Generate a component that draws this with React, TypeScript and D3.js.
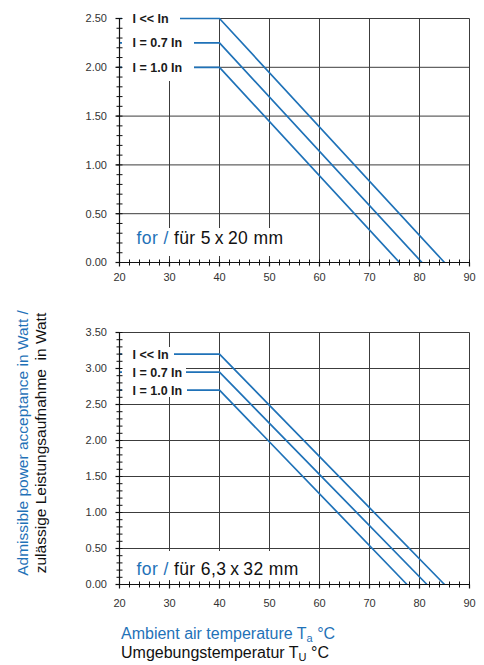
import React from "react";
import * as d3 from "d3";

const xTicks = [20, 30, 40, 50, 60, 70, 80, 90];
const seriesLabels = ["I << In", "I = 0.7 In", "I = 1.0 In"];

const topYTicks = [0, 0.5, 1.0, 1.5, 2.0, 2.5];
const topLevels = [2.5, 2.25, 2.0];
const topZeroTemps = [85, 80.5, 76];
const topKneeTemp = 40;

const bottomYTicks = [0, 0.5, 1.0, 1.5, 2.0, 2.5, 3.0, 3.5];
const bottomLevels = [3.2, 2.95, 2.7];
const bottomZeroTemps = [85, 81.5, 77.5];
const bottomKneeTemp = 40;

const BLUE = "#1f72b8";
const GRID = "#3c3c3c";
const FONT = "'Liberation Sans', Arial, Helvetica, sans-serif";

type PanelProps = {
  yMax: number;
  yTicks: number[];
  levels: number[];
  zeros: number[];
  knee: number;
  y0: number;
  y1: number;
  lineStarts: number[];
  labelBox: { y0: number; y1: number; x1: number };
  noteBox: { y0: number; y1: number };
  noteBaseline: number;
  size: string;
  xLabelBaseline: number;
};

function Panel(p: PanelProps) {
  const x = d3.scaleLinear().domain([20, 90]).range([119.5, 469.5]);
  const y = d3.scaleLinear().domain([0, p.yMax]).range([p.y0, p.y1]);
  const line = d3
    .line<[number, number]>()
    .x((d) => x(d[0]))
    .y((d) => y(d[1]));
  const minorY = d3.range(0, Math.round(p.yMax * 10) + 1).map((i) => i / 10);
  const minorX = d3.range(20, 91, 2);
  return (
    <g>
      {xTicks.slice(1).map((t) => (
        <line key={"vx" + t} x1={x(t)} x2={x(t)} y1={y(0)} y2={y(p.yMax)} stroke={GRID} strokeWidth={1} />
      ))}
      {p.yTicks.slice(1).map((t) => (
        <line key={"hy" + t} x1={x(20)} x2={x(90)} y1={y(t)} y2={y(t)} stroke={GRID} strokeWidth={1} />
      ))}
      {p.levels.map((lv, i) => (
        <path
          key={"s" + i}
          d={line([
            [20, lv],
            [p.knee, lv],
            [p.zeros[i], 0],
          ]) as string}
          fill="none"
          stroke={BLUE}
          strokeWidth={1.7}
        />
      ))}
      <rect x={122} y={p.labelBox.y0} width={p.labelBox.x1 - 122} height={p.labelBox.y1 - p.labelBox.y0} fill="white" />
      {p.levels.map((lv, i) => (
        <rect key={"lb" + i} x={122} y={y(lv) - 6} width={p.lineStarts[i] - 122} height={12} fill="white" />
      ))}
      {p.levels.map((lv, i) => (
        <text
          key={"lt" + i}
          x={132.5}
          y={y(lv)}
          dy="0.36em"
          fontFamily={FONT}
          fontSize={12.5}
          fontWeight="bold"
          fill="#1a1a1a"
        >
          {seriesLabels[i]}
        </text>
      ))}
      <rect x={124} y={p.noteBox.y0} width={182} height={p.noteBox.y1 - p.noteBox.y0} fill="white" />
      <text x={136.5} y={p.noteBaseline} fontFamily={FONT} fontSize={17.5} letterSpacing={0.4} fill="#111">
        <tspan fill={BLUE}>for / </tspan>
        <tspan>für {p.size}</tspan>
      </text>
      <line x1={x(20)} x2={x(20)} y1={y(0)} y2={y(p.yMax)} stroke="#111" strokeWidth={1.2} />
      <line x1={x(20)} x2={x(90)} y1={y(0)} y2={y(0)} stroke="#111" strokeWidth={1.2} />
      {minorY.map((t) => (
        <line key={"my" + t} x1={x(20) - 3} x2={x(20) + 3} y1={y(t)} y2={y(t)} stroke="#111" strokeWidth={1} />
      ))}
      {p.yTicks.map((t) => (
        <line key={"Mj" + t} x1={x(20) - 4} x2={x(20)} y1={y(t)} y2={y(t)} stroke="#111" strokeWidth={1.2} />
      ))}
      {minorX.map((t) => (
        <line key={"mx" + t} x1={x(t)} x2={x(t)} y1={y(0) - 3} y2={y(0) + 3} stroke="#111" strokeWidth={1} />
      ))}
      {xTicks.map((t) => (
        <line key={"Mx" + t} x1={x(t)} x2={x(t)} y1={y(0)} y2={y(0) + 4} stroke="#111" strokeWidth={1.2} />
      ))}
      {p.yTicks.map((t) => (
        <text
          key={"yl" + t}
          x={107}
          y={y(t)}
          dy="0.35em"
          textAnchor="end"
          fontFamily={FONT}
          fontSize={11}
          fill="#333"
        >
          {d3.format(".2f")(t)}
        </text>
      ))}
      {xTicks.map((t) => (
        <text
          key={"xl" + t}
          x={x(t)}
          y={p.xLabelBaseline}
          textAnchor="middle"
          fontFamily={FONT}
          fontSize={11}
          fill="#333"
        >
          {t}
        </text>
      ))}
    </g>
  );
}

export default function App() {
  return (
    <svg width={484} height={665} style={{ position: "absolute", left: 0, top: 0, background: "white" }}>
      <rect x={0} y={0} width={484} height={665} fill="white" />
      <Panel
        yMax={2.5}
        yTicks={topYTicks}
        levels={topLevels}
        zeros={topZeroTemps}
        knee={topKneeTemp}
        y0={262.5}
        y1={18.5}
        lineStarts={[180, 194, 194]}
        labelBox={{ y0: 8, y1: 81, x1: 178 }}
        noteBox={{ y0: 228, y1: 256 }}
        noteBaseline={243.5}
        size={"5\u2009x\u200920 mm"}
        xLabelBaseline={281}
      />
      <Panel
        yMax={3.5}
        yTicks={bottomYTicks}
        levels={bottomLevels}
        zeros={bottomZeroTemps}
        knee={bottomKneeTemp}
        y0={584.5}
        y1={332.5}
        lineStarts={[174, 186, 187]}
        labelBox={{ y0: 347, y1: 397, x1: 172 }}
        noteBox={{ y0: 551, y1: 580 }}
        noteBaseline={574.5}
        size={"6,3\u2009x\u200932 mm"}
        xLabelBaseline={607}
      />
      <g transform="translate(28,443) rotate(-90)">
        <text textAnchor="middle" fontFamily={FONT} fontSize={15.5} fill={BLUE}>
          Admissible power acceptance in Watt /
        </text>
      </g>
      <g transform="translate(46,443) rotate(-90)">
        <text textAnchor="middle" fontFamily={FONT} fontSize={15.5} fill="#111" style={{ whiteSpace: "pre" }}>
          {"zulässige Leistungsaufnahme  in Watt"}
        </text>
      </g>
      <text x={121} y={639} fontFamily={FONT} fontSize={16} fill={BLUE}>
        Ambient air temperature T
        <tspan fontSize={11} dy={3}>a</tspan>
        <tspan dy={-3}> °C</tspan>
      </text>
      <text x={121} y={658} fontFamily={FONT} fontSize={16} fill="#111">
        Umgebungstemperatur T
        <tspan fontSize={11} dy={3}>U</tspan>
        <tspan dy={-3}> °C</tspan>
      </text>
    </svg>
  );
}
